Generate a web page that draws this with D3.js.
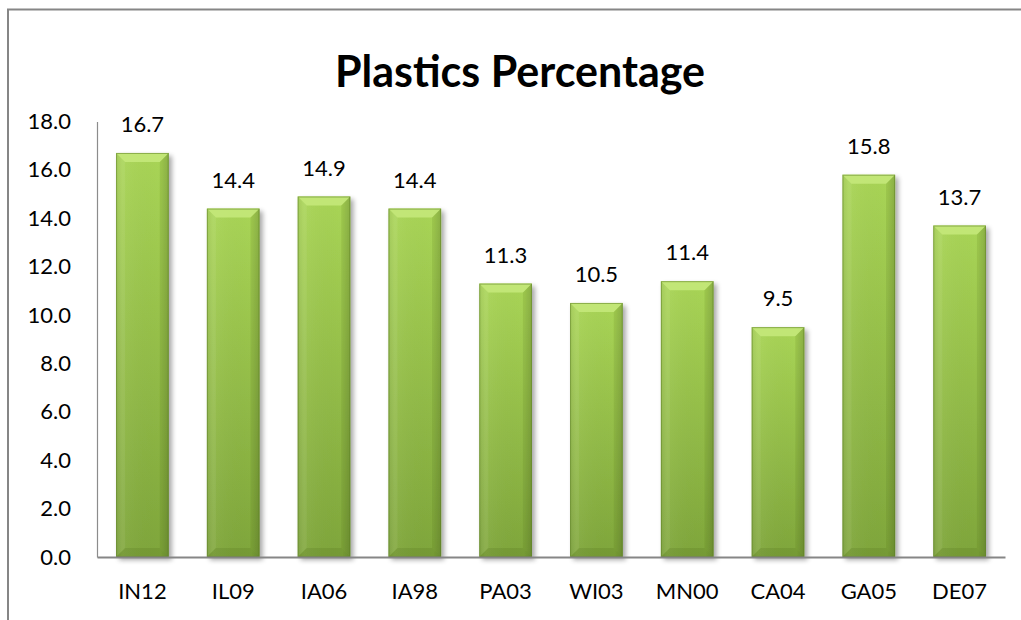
<!DOCTYPE html>
<html>
<head>
<meta charset="utf-8">
<script src="https://cdn.jsdelivr.net/npm/d3@7"></script>
<style>
  body { margin: 0; background: #fff; }
  svg { display: block; font-family: Lato, "Open Sans", sans-serif; }
</style>
</head>
<body>
<svg id="chart" width="1021" height="620"></svg>
<script>
var categories = ["IN12", "IL09", "IA06", "IA98", "PA03", "WI03", "MN00", "CA04", "GA05", "DE07"];
var values = [16.7, 14.4, 14.9, 14.4, 11.3, 10.5, 11.4, 9.5, 15.8, 13.7];
var yTicks = [0, 2, 4, 6, 8, 10, 12, 14, 16, 18];
var title = "Plastics Percentage";

var svg = d3.select("#chart");
var plotLeft = 97, plotRight = 1005, plotTop = 121.5, plotBottom = 557;

// gradients + shadow
var defs = svg.append("defs");
var body = defs.append("linearGradient").attr("id", "barBody")
  .attr("x1", 0).attr("y1", 0).attr("x2", 0).attr("y2", 1);
body.append("stop").attr("offset", "0%").attr("stop-color", "#a9d556");
body.append("stop").attr("offset", "100%").attr("stop-color", "#7fa63b");

var side = defs.append("linearGradient").attr("id", "barSide")
  .attr("x1", 0).attr("y1", 0).attr("x2", 1).attr("y2", 0);
side.append("stop").attr("offset", "0%").attr("stop-color", "#000").attr("stop-opacity", 0.06);
side.append("stop").attr("offset", "12%").attr("stop-color", "#fff").attr("stop-opacity", 0.05);
side.append("stop").attr("offset", "85%").attr("stop-color", "#000").attr("stop-opacity", 0);
side.append("stop").attr("offset", "100%").attr("stop-color", "#000").attr("stop-opacity", 0.12);

var sh = defs.append("filter").attr("id", "shadow")
  .attr("x", "-20%").attr("y", "-5%").attr("width", "150%").attr("height", "115%");
sh.append("feGaussianBlur").attr("in", "SourceAlpha").attr("stdDeviation", 2.5);
sh.append("feOffset").attr("dx", 3).attr("dy", 3).attr("result", "b");
sh.append("feComponentTransfer").append("feFuncA").attr("type", "linear").attr("slope", 0.35);
var merge = sh.append("feMerge");
merge.append("feMergeNode");
merge.append("feMergeNode").attr("in", "SourceGraphic");

// outer chart frame
svg.append("rect")
  .attr("x", 8).attr("y", 9.5).attr("width", 1100).attr("height", 700)
  .attr("fill", "none").attr("stroke", "#868686").attr("stroke-width", 2);

svg.append("text")
  .attr("x", 520).attr("y", 87)
  .attr("text-anchor", "middle")
  .attr("font-size", 43).attr("font-weight", "bold").attr("fill", "#000")
  .text(title);

var x = d3.scaleBand().domain(categories).range([plotLeft, plotRight]).paddingInner(0.42).paddingOuter(0.21);
var y = d3.scaleLinear().domain([0, 18]).range([plotBottom, plotTop]);

// axes
var yAxis = svg.append("g").attr("transform", "translate(" + plotLeft + ",0)")
  .call(d3.axisLeft(y).tickValues(yTicks).tickFormat(d3.format(".1f")).tickSize(0).tickPadding(26));
yAxis.select(".domain").attr("stroke", "#8c8c8c").attr("stroke-width", 1.2);
yAxis.selectAll("text").attr("font-size", 22).attr("fill", "#000")
  .attr("font-family", "Lato, 'Open Sans', sans-serif");

// bars
var bars = svg.append("g").selectAll("g.bar")
  .data(values).enter().append("g").attr("class", "bar")
  .attr("filter", "url(#shadow)");

var bev = 9;
bars.each(function(v, i) {
  var g = d3.select(this);
  var x0 = x(categories[i]), w = x.bandwidth(), y0 = y(v), y1 = y(0), h = y1 - y0;
  g.append("rect").attr("x", x0).attr("y", y0).attr("width", w).attr("height", h)
    .attr("fill", "url(#barBody)");
  g.append("rect").attr("x", x0).attr("y", y0).attr("width", w).attr("height", h)
    .attr("fill", "url(#barSide)");
  // top bevel
  g.append("path")
    .attr("d", "M" + x0 + "," + y0 + "L" + (x0 + w) + "," + y0 + "L" + (x0 + w - bev) + "," + (y0 + bev) + "L" + (x0 + bev) + "," + (y0 + bev) + "Z")
    .attr("fill", "#c4e87a").attr("opacity", 0.9);
  // left bevel
  g.append("path")
    .attr("d", "M" + x0 + "," + y0 + "L" + (x0 + bev) + "," + (y0 + bev) + "L" + (x0 + bev) + "," + (y1 - bev) + "L" + x0 + "," + y1 + "Z")
    .attr("fill", "#ffffff").attr("opacity", 0.06);
  // right bevel
  g.append("path")
    .attr("d", "M" + (x0 + w) + "," + y0 + "L" + (x0 + w - bev) + "," + (y0 + bev) + "L" + (x0 + w - bev) + "," + (y1 - bev) + "L" + (x0 + w) + "," + y1 + "Z")
    .attr("fill", "#3e5a10").attr("opacity", 0.12);
  // bottom bevel
  g.append("path")
    .attr("d", "M" + x0 + "," + y1 + "L" + (x0 + bev) + "," + (y1 - bev) + "L" + (x0 + w - bev) + "," + (y1 - bev) + "L" + (x0 + w) + "," + y1 + "Z")
    .attr("fill", "#3e5a10").attr("opacity", 0.15);
  g.append("rect").attr("x", x0 + 0.5).attr("y", y0 + 0.5).attr("width", w - 1).attr("height", h - 1)
    .attr("fill", "none").attr("stroke", "#5d7f24").attr("stroke-opacity", 0.55).attr("stroke-width", 1);
});

// value labels
svg.append("g").selectAll("text")
  .data(values).enter().append("text")
  .attr("x", function(d, i) { return x(categories[i]) + x.bandwidth() / 2; })
  .attr("y", function(d) { return y(d) - 21; })
  .attr("text-anchor", "middle")
  .attr("font-size", 22).attr("fill", "#000")
  .text(function(d) { return d3.format(".1f")(d); });

// x axis
var xAxis = svg.append("g").attr("transform", "translate(0," + plotBottom + ")")
  .call(d3.axisBottom(x).tickSize(0).tickPadding(26));
xAxis.select(".domain").attr("stroke", "#868686").attr("stroke-width", 2);
xAxis.selectAll("text").attr("font-size", 22).attr("fill", "#000")
  .attr("font-family", "Lato, 'Open Sans', sans-serif");
</script>
</body>
</html>
